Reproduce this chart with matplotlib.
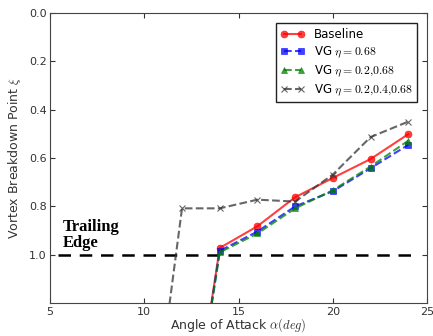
import numpy as np
import matplotlib.pyplot as plt

plt.rcParams['mathtext.fontset'] = 'cm'

# angle of attack (deg); 2.0 marks breakdown beyond the trailing edge
alpha = [12, 14, 16, 18, 20, 22, 24]
xi_baseline = [2.0, 0.972, 0.882, 0.762, 0.682, 0.604, 0.501]
xi_vg_068 = [2.0, 0.984, 0.904, 0.800, 0.737, 0.642, 0.545]
xi_vg_02_068 = [2.0, 0.990, 0.912, 0.808, 0.733, 0.635, 0.528]
xi_vg_02_04_068 = [2.0, 0.808, 0.808, 0.772, 0.780, 0.668, 0.513, 0.449]
alpha_vg3 = [10, 12, 14, 16, 18, 20, 22, 24]

trailing_edge = 1.0
edge_span = [5.45, 24.4]

fig = plt.figure(figsize=(4.33, 3.36), dpi=100)
ax = fig.add_axes([0.1155, 0.098, 0.871, 0.863])

ax.plot(edge_span, [trailing_edge, trailing_edge], 'k--', lw=1.8,
        dashes=(5, 3.5))
ax.plot(alpha, xi_baseline, '-o', color='red', alpha=0.75, ms=5,
        mec='red', mew=0.5, label='Baseline')
ax.plot(alpha, xi_vg_068, '--s', color='blue', alpha=0.75, ms=4.5,
        mec='blue', mew=0.5, label=r'VG $\eta=0.68$')
ax.plot(alpha, xi_vg_02_068, '--^', color='green', alpha=0.75, ms=5,
        mec='green', mew=0.5, label=r'VG $\eta=0.2{,}0.68$')
ax.plot(alpha_vg3, xi_vg_02_04_068, '--x', color='#333333', alpha=0.75,
        ms=5, mew=0.8, label=r'VG $\eta=0.2{,}0.4{,}0.68$')

ax.text(5.7, 0.985, 'Trailing\nEdge', family='Liberation Serif',
        fontweight='bold', fontsize=12, va='bottom', ha='left',
        linespacing=1.0)

ax.set_xlim(5, 25)
ax.set_ylim(1.2, 0.0)
ax.set_xticks([5, 10, 15, 20, 25])
ax.set_yticks([0.0, 0.2, 0.4, 0.6, 0.8, 1.0])
ax.set_yticklabels(['0.0', '0.2', '0.4', '0.6', '0.8', '1.0'])
ax.tick_params(direction='in', top=True, right=True, labelsize=8,
               colors='#333333', length=3.5, pad=2.5)
for s in ax.spines.values():
    s.set_color('#444444')

ax.set_xlabel(r'Angle of Attack $\alpha(deg)$', fontsize=9, color='#333333',
              labelpad=0)
ax.set_ylabel(r'Vortex Breakdown Point $\xi$', fontsize=9, color='#333333',
              labelpad=4)

leg = ax.legend(loc='upper right', fontsize=8.5, numpoints=2,
                fancybox=False, framealpha=1, borderpad=0.4,
                handlelength=2.0, labelspacing=0.3,
                bbox_to_anchor=(0.99, 0.985))
leg.get_frame().set_edgecolor('#222222')

fig.savefig('out.png', dpi=100)
